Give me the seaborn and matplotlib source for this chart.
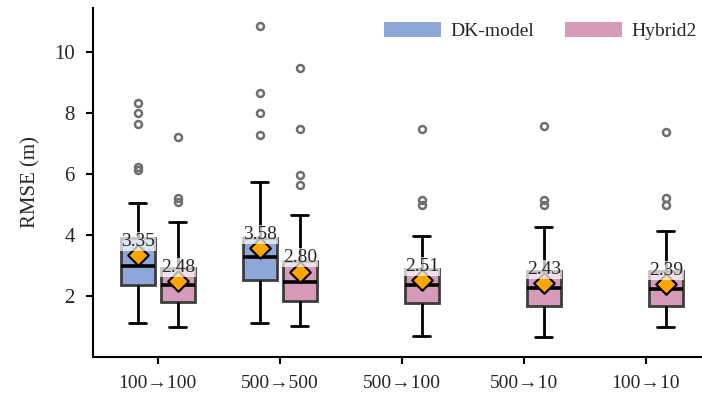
import numpy as np
import pandas as pd
import seaborn as sns
import matplotlib.pyplot as plt
from matplotlib.patches import Patch

# Kategorien und Modelle
categories = ['100→100', '500→500', '500→100', '500→10', '100→10']
models = ['DK-model', 'Hybrid2']

# eine Box pro Eintrag: Kategorie, Modell, Fünf-Punkte-Zusammenfassung, Ausreißer, Mittelwert
box_cat = ['100→100', '100→100', '500→500', '500→500', '500→100', '500→10', '100→10']
box_model = ['DK-model', 'Hybrid2', 'DK-model', 'Hybrid2', 'Hybrid2', 'Hybrid2', 'Hybrid2']
whisker_lo = [1.11, 0.98, 1.11, 1.02, 0.69, 0.66, 0.98]
q1 = [2.36, 1.80, 2.52, 1.84, 1.77, 1.67, 1.67]
median = [2.98, 2.36, 3.28, 2.46, 2.36, 2.26, 2.23]
q3 = [3.90, 2.92, 3.90, 3.15, 2.89, 2.82, 2.82]
whisker_hi = [5.05, 4.43, 5.74, 4.66, 3.97, 4.26, 4.13]
outliers = [
    [6.15, 6.23, 7.64, 8.00, 8.33],
    [5.08, 5.22, 7.21],
    [7.28, 8.00, 8.66, 10.85],
    [5.64, 5.97, 7.47, 9.47],
    [5.00, 5.15, 7.48],
    [5.00, 5.15, 7.58],
    [5.00, 5.20, 7.38],
]
means = [3.35, 2.48, 3.58, 2.80, 2.51, 2.43, 2.39]

colors = {'DK-model': '#8fa6d8', 'Hybrid2': '#d69bbb'}

# Langformat: Werte so anordnen, dass Quartile und Whisker exakt getroffen werden
rows = []
for i in range(len(box_cat)):
    k = len(outliers[i])
    m = k + 1
    vals = ([whisker_lo[i]] + [q1[i]] * m + [median[i]] * m + [q3[i]] * m
            + [whisker_hi[i]] * (m - k) + outliers[i])
    for v in vals:
        rows.append((box_cat[i], box_model[i], v))
df = pd.DataFrame(rows, columns=['Kategorie', 'Modell', 'RMSE'])

sns.set_style('ticks')
plt.rcParams['font.family'] = ['Liberation Serif', 'DejaVu Serif']

fig = plt.figure(figsize=(7.02, 3.96), dpi=100)
ax = fig.add_axes([0.1325, 0.0985, 0.8675, 0.8815])

group_width = 0.656
sns.boxplot(data=df, x='Kategorie', y='RMSE', hue='Modell',
            order=categories, hue_order=models, palette=colors,
            width=group_width, gap=0.15, whis=1.4, saturation=1,
            linewidth=2, legend=False, ax=ax,
            boxprops=dict(edgecolor='#3d3d3d', linewidth=2),
            whiskerprops=dict(color='black', linewidth=2),
            capprops=dict(color='black', linewidth=2),
            medianprops=dict(color='black', linewidth=2.6),
            flierprops=dict(marker='o', markerfacecolor='none',
                            markeredgecolor='#6e6e6e', markeredgewidth=1.8,
                            markersize=5))

# Mittelwerte als Rauten mit Beschriftung
offset = group_width / 4
for i in range(len(box_cat)):
    x = categories.index(box_cat[i]) + (-offset if box_model[i] == 'DK-model' else offset)
    ax.scatter(x, means[i], marker='D', s=110, color='#ffa500',
               edgecolor='black', linewidth=1.5, zorder=4)
    ax.text(x, means[i] + 0.17, f'{means[i]:.2f}', ha='center', va='bottom',
            fontsize=14, zorder=5,
            bbox=dict(boxstyle='square,pad=0.05', facecolor='white',
                      edgecolor='none', alpha=0.7))

ax.set_xlim(-0.53, 4.46)
ax.set_ylim(0, 11.45)
ax.set_yticks([2, 4, 6, 8, 10])
ax.set_xlabel('')
ax.set_ylabel('RMSE (m)', fontsize=15, labelpad=10)
ax.tick_params(axis='both', labelsize=14, width=1.5, length=5, color='black')
ax.tick_params(axis='x', pad=8)
ax.tick_params(axis='y', labelsize=15, pad=8)
sns.despine(ax=ax)
for s in ['left', 'bottom']:
    ax.spines[s].set_linewidth(1.5)
    ax.spines[s].set_color('black')

handles = [Patch(facecolor=colors[m], edgecolor='none', label=m) for m in models]
ax.legend(handles=handles, ncol=2, frameon=False, fontsize=14,
          loc='upper right', bbox_to_anchor=(1.02, 1.01),
          handlelength=2.9, handleheight=0.85, handletextpad=0.5,
          columnspacing=1.6)

fig.savefig('out.png', dpi=100)
